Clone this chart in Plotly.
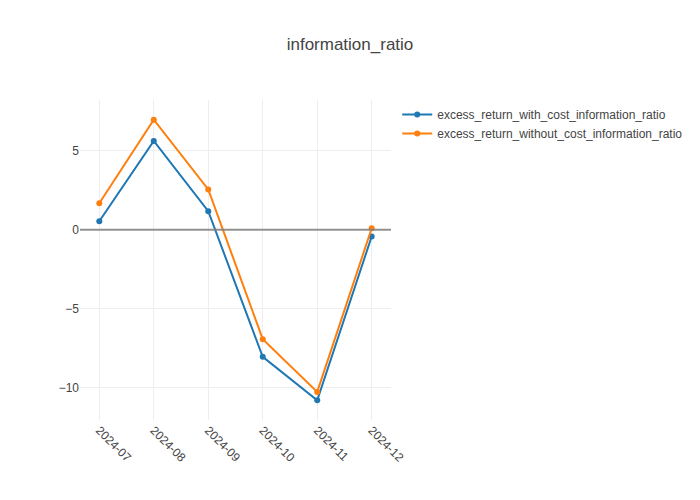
import plotly.graph_objects as go

months = ["2024-07", "2024-08", "2024-09", "2024-10", "2024-11", "2024-12"]
with_cost = [0.55, 5.64, 1.18, -8.05, -10.8, -0.42]
without_cost = [1.69, 6.98, 2.56, -6.93, -10.27, 0.1]

fig = go.Figure()
fig.add_trace(go.Scatter(x=months, y=with_cost, mode="lines+markers",
                         name="excess_return_with_cost_information_ratio",
                         line=dict(color="#1f77b4", width=2), marker=dict(size=6)))
fig.add_trace(go.Scatter(x=months, y=without_cost, mode="lines+markers",
                         name="excess_return_without_cost_information_ratio",
                         line=dict(color="#ff7f0e", width=2), marker=dict(size=6)))
fig.add_hline(y=0, line=dict(color="gray", width=2), opacity=0.85)
fig.update_layout(
    template="none",
    width=700, height=500,
    font=dict(family="Arial", color="#444"),
    title=dict(text="information_ratio", x=0.5, xanchor="center"),
    xaxis=dict(type="category", tickangle=45, showgrid=True, gridcolor="#eee", zeroline=False),
    yaxis=dict(showgrid=True, gridcolor="#eee", zeroline=False),
)
fig.write_html("out.html", config={"displayModeBar": False},
               post_script="document.body.style.margin='0';")
